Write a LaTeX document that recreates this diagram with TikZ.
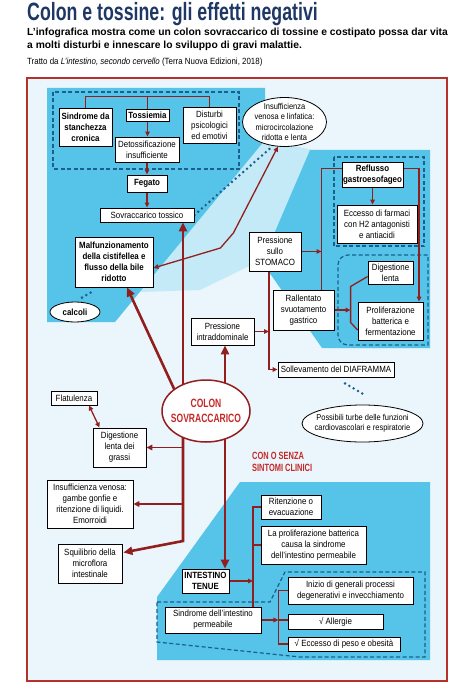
\documentclass[tikz,border=0pt]{standalone}
\usepackage{fontspec}
\setmainfont{Liberation Sans}[FakeStretch=0.88]
\newfontfamily\condfont{Liberation Sans}[FakeStretch=0.71]
\newfontfamily\plainfont{Liberation Sans}
\usepackage{tikz}
\definecolor{LinkRed}{HTML}{931E1E}
\definecolor{ColonRed}{HTML}{C62828}
\definecolor{FrameRed}{HTML}{B5322A}
\definecolor{TitleNavy}{HTML}{1E3765}
\definecolor{DashBlue}{HTML}{1C5F8C}
\definecolor{CyanBg}{HTML}{55C4E8}
\definecolor{PaleBg}{HTML}{EAF6FB}
\usetikzlibrary{
  arrows.meta,calc,positioning,shapes.geometric,backgrounds
}
\pgfdeclarelayer{zones}
\pgfsetlayers{zones,background,main}

\begin{document}
\begin{tikzpicture}[
    x=1pt,y=-1pt,
    font=\fontsize{9}{11}\selectfont,
    box/.style={draw,fill=white,line width=0.8pt,inner sep=1pt,align=center},
    bbox/.style={box,font=\fontsize{9}{11}\selectfont\bfseries},
    oval/.style={ellipse,draw,fill=white,line width=0.8pt,inner sep=-6pt,align=center,
      font=\fontsize{8.5}{10.5}\selectfont},
    wh/.style 2 args={minimum width=#1pt,minimum height=#2pt},
    link/.style={LinkRed,line width=1.3pt},
    arr/.style={link,-{Triangle[length=5pt,width=4.5pt]}},
    twoway/.style={link,{Triangle[length=5pt,width=4.5pt]}-{Triangle[length=5pt,width=4.5pt]}},
    branch/.style={LinkRed,line width=1.8pt,-{Triangle[length=6pt,width=5.5pt]}},
    trunk/.style={LinkRed,line width=2.6pt,-{Triangle[length=9pt,width=8pt]}},
    zone/.style={DashBlue,line width=1.2pt,dash pattern=on 4pt off 2.5pt},
    dots/.style={DashBlue,line width=2.8pt,line cap=round,dash pattern=on 0pt off 5pt}
  ]
    \useasboundingbox (0,0) rectangle (459,695);

    % heading
    \node[anchor=base west,inner sep=0,text=TitleNavy,
      font=\condfont\bfseries\fontsize{25}{28}\selectfont] (title) at (27,21)
      {Colon e tossine: gli effetti negativi};
    \node[anchor=north west,inner sep=0,align=left,
      font=\plainfont\bfseries\fontsize{10.3}{12.5}\selectfont] (lead) at (27,28)
      {L’infografica mostra come un colon sovraccarico di tossine e costipato possa dar vita\\
       a molti disturbi e innescare lo sviluppo di gravi malattie.};
    \node[anchor=base west,inner sep=0] (fonte) at (27,65)
      {Tratto da \textit{L’intestino, secondo cervello} (Terra Nuova Edizioni, 2018)};

    % top group
    \node[bbox,wh={53}{38}] (sindrome) at (85.5,127) {Sindrome da\\stanchezza\\cronica};
    \node[bbox,wh={43}{12}] (tossiemia) at (147.5,115) {Tossiemia};
    \node[box,wh={53}{36}] (disturbi) at (209.5,125) {Disturbi\\psicologici\\ed emotivi};
    \node[box,wh={64}{25}] (detox) at (147,149.5) {Detossificazione\\insufficiente};
    \node[bbox,wh={40}{17}] (fegato) at (147,183.5) {Fegato};
    \node[box,wh={94}{14}] (sovra) at (147,215) {Sovraccarico tossico};
    \node[oval,wh={84}{49}] (insuff) at (284.5,122)
      {Insufficienza\\venosa e linfatica:\\microcircolazione\\ridotta e lenta};
    \node[bbox,wh={78}{50}] (malfunz) at (114,262)
      {Malfunzionamento\\della cistifellea e\\flusso della bile\\ridotto};
    \node[oval,font=\fontsize{9}{11}\selectfont\bfseries,wh={50}{20}] (calcoli) at (75,312) {calcoli};

    % right group
    \node[bbox,wh={61}{25}] (reflusso) at (372.5,174.5) {Reflusso\\gastroesofageo};
    \node[box,wh={80}{38}] (eccesso) at (377,224) {Eccesso di farmaci\\con H2 antagonisti\\e antiacidi};
    \node[box,wh={52}{39}] (stomaco) at (275,251.5) {Pressione\\sullo\\STOMACO};
    \node[box,wh={61}{40}] (rall) at (303.5,310) {Rallentato\\svuotamento\\gastrico};
    \node[box,wh={45}{23}] (dlenta) at (390.5,272.5) {Digestione\\lenta};
    \node[box,wh={65}{38}] (prolif) at (390.5,321) {Proliferazione\\batterica e\\fermentazione};
    \node[box,wh={63}{27}] (intra) at (222.5,331.5) {Pressione\\intraddominale};
    \node[box,wh={116}{15}] (soll) at (336,369.5) {Sollevamento del DIAFRAMMA};
    \node[oval,inner xsep=-16pt,wh={121}{37}] (possib) at (362.5,423.5)
      {Possibili turbe delle funzioni\\cardiovascolari e respiratorie};

    % centre and left
    \node[oval,draw=LinkRed,line width=1.5pt,text=ColonRed,
      font=\condfont\bfseries\fontsize{12}{15}\selectfont,wh={88}{62}] (colon) at (206,411)
      {COLON\\SOVRACCARICO};
    \node[box,wh={46}{14}] (flat) at (74,398) {Flatulenza};
    \node[box,wh={53}{39}] (grassi) at (119.5,447.5) {Digestione\\lenta dei\\grassi};
    \node[box,wh={86}{48}] (venosa) at (90,504)
      {Insufficienza venosa:\\gambe gonfie e\\ritenzione di liquidi.\\Emorroidi};
    \node[box,wh={64}{39}] (squil) at (90,563.5) {Squilibrio della\\microflora\\intestinale};

    % bottom group
    \node[anchor=north west,align=left,inner sep=0,text=ColonRed,
      font=\condfont\bfseries\fontsize{10.5}{11.5}\selectfont] (sintomi) at (252,452)
      {CON O SENZA\\SINTOMI CLINICI};
    \node[box,wh={60}{24}] (riten) at (291,507) {Ritenzione o\\evacuazione};
    \node[box,wh={105}{38}] (lapro) at (313.5,545)
      {La proliferazione batterica\\causa la sindrome\\dell’intestino permeabile};
    \node[bbox,wh={47}{24}] (tenue) at (205.5,581) {INTESTINO\\TENUE};
    \node[box,wh={96}{26}] (perm) at (213,620) {Sindrome dell’intestino\\permeabile};
    \node[box,wh={125}{27}] (inizio) at (350.5,590.5)
      {Inizio di generali processi\\degenerativi e invecchiamento};
    \node[box,wh={95}{15}] (allerg) at (335.5,621.5) {√ Allergie};
    \node[box,wh={112}{14}] (peso) at (344,644) {√ Eccesso di peso e obesità};

    % frame, coloured areas, dashed groups
    \begin{pgfonlayer}{zones}
      \fill[white] (0,0) rectangle (459,695);
      \draw[FrameRed,line width=1.4pt,fill=PaleBg] (27,78) rectangle (447,681);
      \fill[CyanBg!35] (265,140) -- (313,150) -- (278,252) -- (200,290) -- (140,292) -- cycle;
      \fill[CyanBg] (47,88) -- (265,88) -- (265,140) -- (115,322) -- (47,322) -- cycle;
      \fill[CyanBg] (310,150) -- (430,150) -- (430,348) -- (322,348) -- (262,262) -- cycle;
      \fill[CyanBg] (240,482) -- (430,482) -- (430,660) -- (157,660) -- (157,597) -- cycle;
      \draw[zone] (53,92) rectangle (239,169);
      \draw[zone] (334,157) rectangle (424,246);
      \draw[zone] (428,300) -- (428,255) {[rounded corners=10pt] -- (338,255) -- (338,345)} -- (428,345) -- cycle;
      \draw[zone] (157,602) -- (270,602) -- (285,572) -- (425,572) -- (425,657)
        -- (300,657) -- (157,642) -- cycle;
    \end{pgfonlayer}

    \begin{scope}[on background layer]
      % top chain
      \coordinate (topbar) at ($(tossiemia.north)+(0,-12)$);
      \draw[link] (sindrome.north) |- (topbar) -| (disturbi.north);
      \draw[link] (topbar) -- (tossiemia.north);
      \draw[arr] (tossiemia.south) -- (tossiemia.south |- detox.north);
      \draw[arr] (detox.south) -- (fegato.north);
      \draw[arr] (fegato.south) -- (sovra.north);
      \draw[dots] (sovra.east) -- (insuff.244);
      \draw[twoway] ($(malfunz.east)+(0,6)$) -- ++(67,-20) -- ++(13,-15) -- (insuff.255);
      \draw[dots] ($(calcoli.north)+(7,-4)$) -- ($(malfunz.south west)+(18,4)$);

      % from the colon
      \coordinate (lx) at ($(colon.center)+(-23,0)$);
      \coordinate (rx) at ($(colon.center)+(19,0)$);
      \draw[trunk] (lx) -- (lx |- sovra.south);
      \draw[trunk] ($(colon.center)+(-24,-5)$) -- ($(malfunz.south)+(13,0)$);
      \draw[trunk] (rx) -- (rx |- intra.south);
      \draw[trunk] (rx) -- (rx |- tenue.north);
      \draw[trunk] (lx) -- ++(0,130) -- ($(squil.east)+(1,-11)$);
      \draw[branch] (lx |- grassi.east) -- (grassi.east);
      \draw[branch] (lx |- venosa.east) -- (venosa.east);
      \draw[twoway] ($(flat.south)+(15,0)$) -- ($(grassi.north)+(-20,0)$);

      % stomach side
      \coordinate (busR) at ($(rall.north)+(18,0)$);
      \draw[link] (busR) |- ($(reflusso.west)+(0,-6)$);
      \draw[arr] (stomaco.east) -- (stomaco.east -| busR);
      \draw[arr] ($(reflusso.east)+(0,-6)$) -| ($(prolif.north)+(28.5,0)$);
      \draw[arr] (reflusso.south) -- (reflusso.south |- eccesso.north);
      \coordinate (busD) at ($(dlenta.west)+(-17,14)$);
      \draw[link] ($(dlenta.west)+(0,4)$) -- (busD) -- ++(0,36) -- ($(prolif.west)+(0,9)$);
      \draw[arr] (rall.east) -- (rall.east -| busD);
      \coordinate (busS) at ($(stomaco.south)+(-6,0)$);
      \draw[arr] (busS) |- (soll.west);
      \draw[arr] (intra.east) -- (intra.east -| busS);
      \draw[dots] ($(soll.south)+(9,6)$) -- ($(possib.north)+(0,-11)$);

      % small intestine
      \coordinate (busB) at ($(perm.north)+(40,0)$);
      \draw[link] (busB) |- (riten.west);
      \draw[link] (busB |- lapro.west) -- (lapro.west);
      \draw[arr] (tenue.east) -- (tenue.east -| busB);
      \coordinate (busC) at ($(perm.east)+(17,0)$);
      \draw[arr] (perm.east) -- (busC);
      \draw[link] (inizio.west) -| (busC) |- (peso.west);
      \draw[link] (busC) -- (busC -| allerg.west);
    \end{scope}
  \end{tikzpicture}
\end{document}
